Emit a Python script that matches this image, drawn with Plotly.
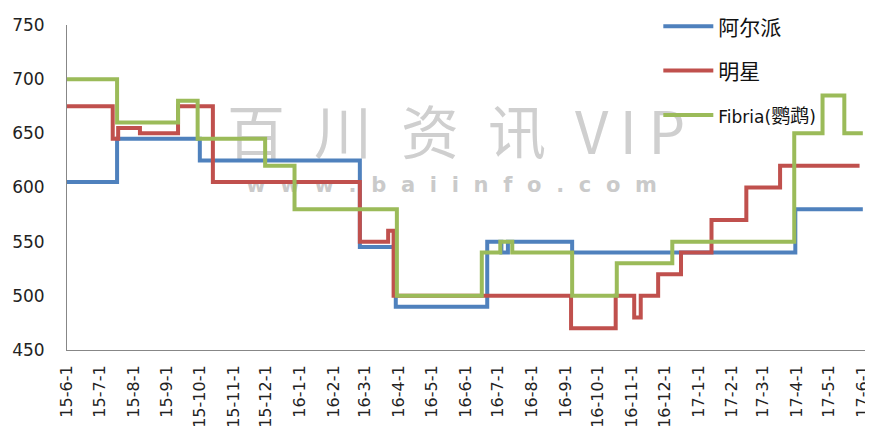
import plotly.graph_objects as go

# ---- data ----
alpine_dates = ["2015-06-01", "2015-07-17", "2015-10-01", "2016-02-25", "2016-03-29",
                "2016-06-21", "2016-07-04", "2016-07-10", "2016-09-07", "2017-03-31",
                "2017-06-01"]
alpine_values = [605, 645, 625, 545, 490, 550, 540, 550, 540, 580, 580]

star_dates = ["2015-06-01", "2015-07-13", "2015-07-18", "2015-08-07", "2015-09-11",
              "2015-10-13", "2016-02-25", "2016-03-22", "2016-03-27", "2016-09-06",
              "2016-10-17", "2016-11-03", "2016-11-09", "2016-11-25", "2016-12-16",
              "2017-01-13", "2017-02-14", "2017-03-17", "2017-05-29"]
star_values = [675, 645, 655, 650, 675, 605, 550, 560, 500, 470,
               500, 480, 500, 520, 540, 570, 600, 620, 620]

fibria_dates = ["2015-06-01", "2015-07-17", "2015-09-11", "2015-09-29", "2015-11-30",
                "2015-12-27", "2016-03-30", "2016-06-16", "2016-07-03", "2016-07-14",
                "2016-09-07", "2016-10-18", "2016-12-08", "2017-03-30", "2017-04-25",
                "2017-05-15", "2017-06-01"]
fibria_values = [700, 660, 680, 645, 620, 580, 500, 540, 550, 540,
                 500, 530, 550, 650, 685, 650, 650]

series_names = ["阿尔派", "明星", "Fibria(鹦鹉)"]
series_colors = ["#4F81BD", "#C0504D", "#9BBB59"]

tick_dates = ["2015-06-01", "2015-07-01", "2015-08-01", "2015-09-01", "2015-10-01",
              "2015-11-01", "2015-12-01", "2016-01-01", "2016-02-01", "2016-03-01",
              "2016-04-01", "2016-05-01", "2016-06-01", "2016-07-01", "2016-08-01",
              "2016-09-01", "2016-10-01", "2016-11-01", "2016-12-01", "2017-01-01",
              "2017-02-01", "2017-03-01", "2017-04-01", "2017-05-01", "2017-06-01"]
tick_labels = ["15-6-1", "15-7-1", "15-8-1", "15-9-1", "15-10-1", "15-11-1", "15-12-1",
               "16-1-1", "16-2-1", "16-3-1", "16-4-1", "16-5-1", "16-6-1", "16-7-1",
               "16-8-1", "16-9-1", "16-10-1", "16-11-1", "16-12-1", "17-1-1", "17-2-1",
               "17-3-1", "17-4-1", "17-5-1", "17-6-1"]
y_ticks = [450, 500, 550, 600, 650, 700, 750]

fig = go.Figure()
legend_labels = [
    series_names[0],
    series_names[1],
    '<span style="font-size:17px;font-family:DejaVu Sans">Fibria(</span>'
    '<span style="font-size:19px">鹦鹉</span>'
    '<span style="font-size:17px;font-family:DejaVu Sans">)</span>',
]
for i, (d, v) in enumerate([(alpine_dates, alpine_values),
                            (star_dates, star_values),
                            (fibria_dates, fibria_values)]):
    fig.add_trace(go.Scatter(
        x=d, y=v, mode="lines", name=legend_labels[i],
        line=dict(color=series_colors[i], width=4, shape="hv"),
        legendgroup=f"g{i}",
    ))

# watermark (drawn beneath the lines)
fig.add_shape(type="rect", xref="paper", yref="paper",
              x0=0.1875, x1=0.7875, y0=0.57, y1=0.734,
              line=dict(width=0), fillcolor="rgba(0,0,0,0)", layer="below",
              label=dict(text="百\u2002川\u2002资\u2002讯\u2002V\u2009I\u2009P",
                         font=dict(size=58, color="#cfcfcf",
                                   family="Noto Sans CJK SC"),
                         textposition="middle center"))
sp = "\u2002\u2009"
fig.add_shape(type="rect", xref="paper", yref="paper",
              x0=0.182, x1=0.782, y0=0.46, y1=0.568,
              line=dict(width=0), fillcolor="rgba(0,0,0,0)", layer="below",
              label=dict(text="<b>" + sp.join("www.baiinfo.com") + "</b>",
                         font=dict(size=21, color="#cacaca", family="DejaVu Sans"),
                         textposition="middle center"))

# the page body has an 8px margin, so the figure is sized/positioned to compensate
fig.update_layout(
    width=865, height=421,
    margin=dict(l=59, r=8, t=17, b=79, autoexpand=False),
    paper_bgcolor="white", plot_bgcolor="white",
    font=dict(family="DejaVu Sans", size=17, color="#222222"),
    showlegend=True,
    legend=dict(
        x=0.741, y=1.058, xanchor="left", yanchor="top",
        bgcolor="rgba(0,0,0,0)",
        font=dict(family="Noto Sans CJK SC", size=21, color="#111111"),
        tracegroupgap=14, itemwidth=50,
    ),
    xaxis=dict(
        type="date", range=["2015-06-01", "2017-06-03"],
        tickvals=tick_dates, ticktext=tick_labels, tickangle=-90,
        showgrid=False, zeroline=False,
        showline=True, linecolor="#878787", linewidth=1,
        ticks="", ticklabelstandoff=8,
        tickfont=dict(family="DejaVu Sans", size=16, color="#222222"),
    ),
    yaxis=dict(
        range=[450, 750], tickvals=y_ticks,
        showgrid=False, zeroline=False,
        showline=True, linecolor="#878787", linewidth=1,
        ticks="", ticklabelstandoff=18,
        tickfont=dict(family="DejaVu Sans", size=17, color="#222222"),
    ),
)

fig.write_html("out.html")
